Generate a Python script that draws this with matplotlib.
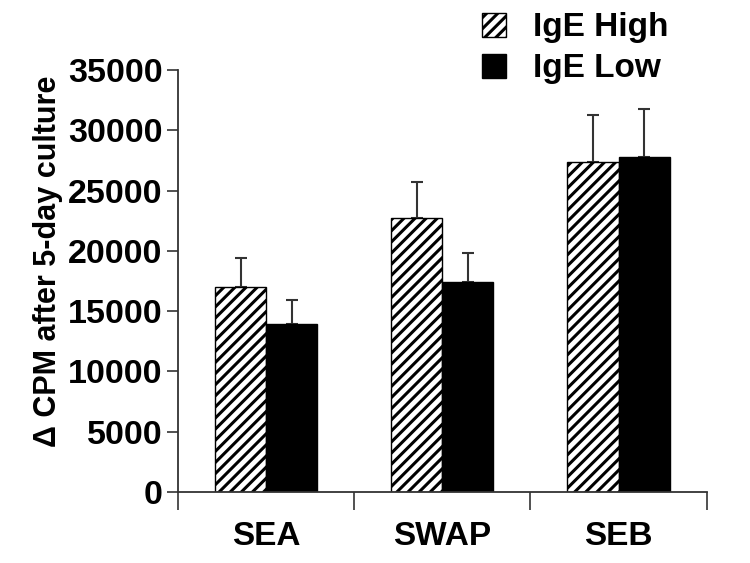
import matplotlib.pyplot as plt
from matplotlib.patches import Patch

plt.rcParams['font.family'] = ['Liberation Sans', 'DejaVu Sans']
plt.rcParams['font.weight'] = 'bold'
plt.rcParams['hatch.linewidth'] = 2.2

# dados
categorias = ['SEA', 'SWAP', 'SEB']
igE_high = [17000, 22700, 27400]
igE_high_err = [2400, 3000, 3850]
igE_low = [13900, 17400, 27800]
igE_low_err = [2000, 2450, 3950]
y_ticks = [0, 5000, 10000, 15000, 20000, 25000, 30000, 35000]

fig = plt.figure(figsize=(7.5, 5.63), dpi=100)
ax = fig.add_axes([0.2373, 0.1261, 0.705, 0.7496])

centros = [i + 0.5 for i in range(len(categorias))]
w = 0.29
x_high = [c - w / 2 for c in centros]
x_low = [c + w / 2 for c in centros]

ax.bar(x_high, igE_high, width=w, color='white', edgecolor='black',
       hatch='///', linewidth=1.0, zorder=2)
ax.bar(x_low, igE_low, width=w, color='black', edgecolor='black',
       linewidth=1.0, zorder=2)

# barras de erro só para cima
ax.errorbar(x_high, igE_high, yerr=[[0] * 3, igE_high_err], fmt='none',
            ecolor='#333333', elinewidth=1.5, capsize=4, capthick=1.5, zorder=1)
ax.errorbar(x_low, igE_low, yerr=[[0] * 3, igE_low_err], fmt='none',
            ecolor='#333333', elinewidth=1.5, capsize=4, capthick=1.5, zorder=1)

ax.set_xlim(0, 3)
ax.set_ylim(0, 35000)

ax.set_yticks(y_ticks)
ax.set_yticklabels([str(v) for v in y_ticks], fontsize=24.5, fontweight='bold')
ax.tick_params(axis='y', length=8, width=1.2, color='#333333', pad=3)

# ticks de separação no eixo x, rótulos no centro
ax.set_xticks([0, 1, 2, 3])
ax.set_xticklabels([])
ax.tick_params(axis='x', which='major', length=13, width=1.2, color='#333333')
ax.set_xticks(centros, minor=True)
ax.set_xticklabels(categorias, minor=True, fontsize=24, fontweight='bold')
ax.tick_params(axis='x', which='minor', length=0, pad=21)

for s in ['top', 'right']:
    ax.spines[s].set_visible(False)
for s in ['left', 'bottom']:
    ax.spines[s].set_color('#333333')
    ax.spines[s].set_linewidth(1.3)

ax.set_ylabel('\u0394 CPM after 5-day culture', fontsize=22, fontweight='bold')
ax.yaxis.set_label_coords(-0.218, 0.546)

handles = [Patch(facecolor='white', edgecolor='black', hatch='///', label='IgE High'),
           Patch(facecolor='black', edgecolor='black', label='IgE Low')]
fig.legend(handles=handles, loc='upper left', bbox_to_anchor=(0.643, 0.978),
           frameon=False, fontsize=24, handlelength=0.72, handleheight=0.72,
           handletextpad=0.8, labelspacing=0.3, borderpad=0, borderaxespad=0)

fig.savefig('out.png', dpi=100)
